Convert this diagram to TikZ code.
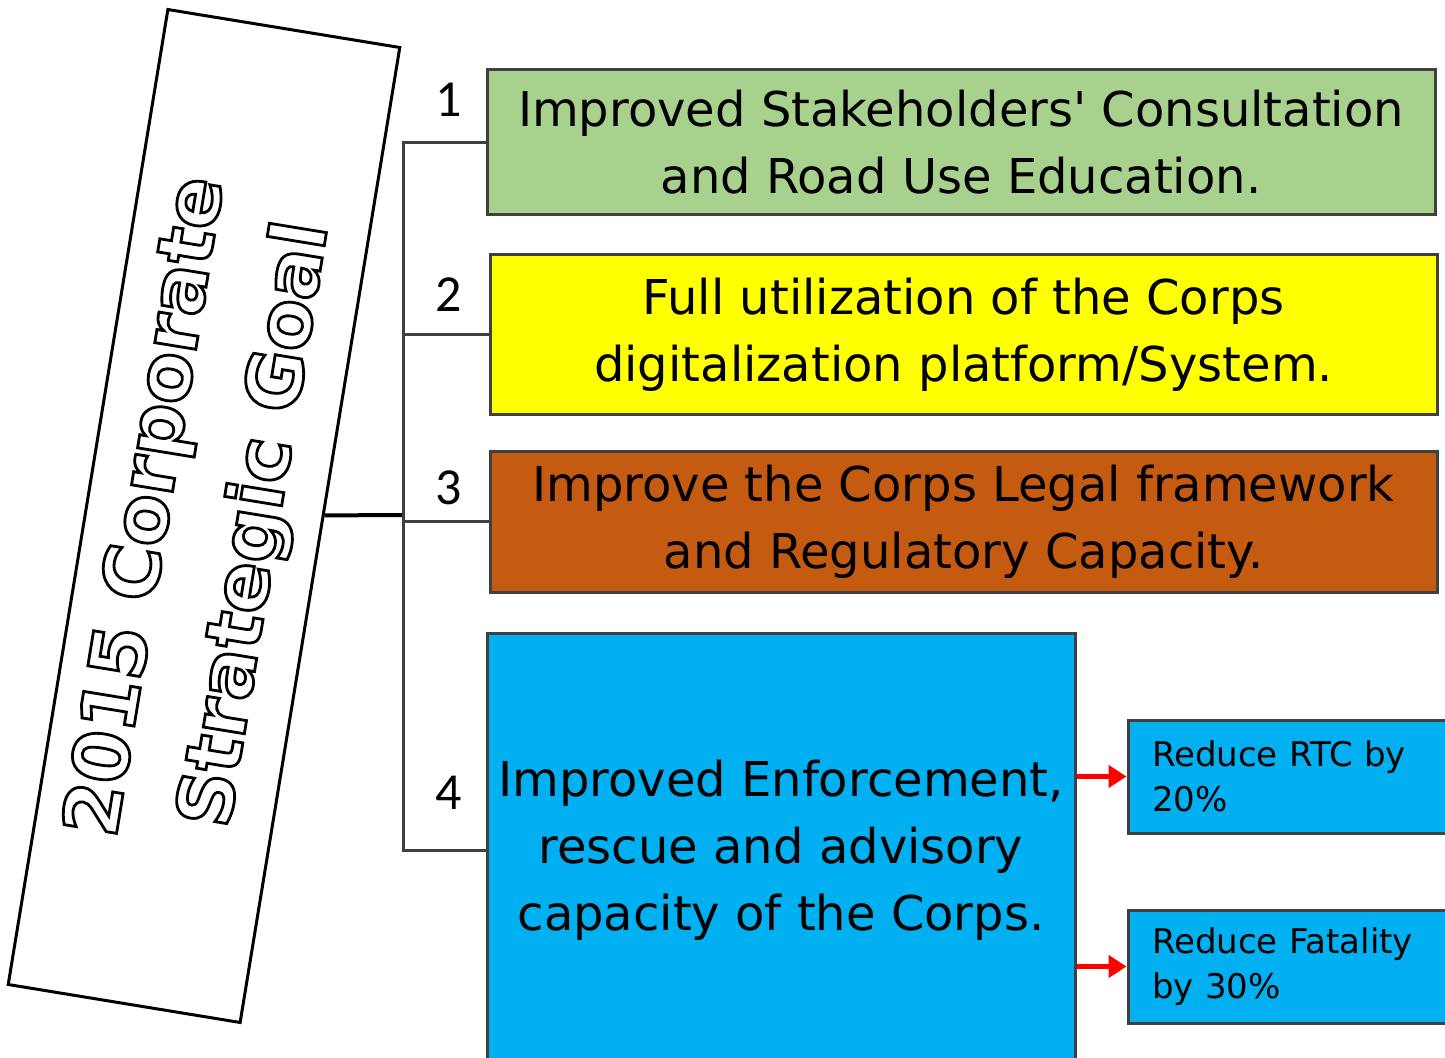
\documentclass[tikz,border=0pt]{standalone}
\usepackage{fontspec}
\usepackage{xcolor}
\usetikzlibrary{arrows.meta}
\setmainfont{DejaVu Sans}
\newfontfamily\numfont{Carlito}
\definecolor{objgreen}{RGB}{169,209,142}
\definecolor{objyellow}{RGB}{255,255,0}
\definecolor{objorange}{RGB}{197,90,17}
\definecolor{objblue}{RGB}{0,176,240}
\definecolor{edgegray}{RGB}{64,64,64}
% hollow letters: white fill, black stroke
\newcommand{\hollow}[1]{\special{pdf:literal 0 G 2 Tr 1.4 w}#1\special{pdf:literal 0 Tr}}

\tikzset{
  objbox/.style={draw = edgegray, line width=1.5pt, align=center, font=\fontsize{24}{33.5}\selectfont},
  targetbox/.style={draw = edgegray, line width=1.5pt, fill = objblue, align=left, text width=137pt, inner xsep=12pt, font=\fontsize{17}{22.5}\selectfont},
  numlabel/.style={font=\numfont\fontsize{26}{30}\selectfont},
  link/.style={draw = edgegray, line width=1.5pt},
  redarrow/.style={red, line width=2.5pt, -{Triangle[length=9pt,width=11pt]}}
}

\begin{document}
\begin{tikzpicture}[x=0.5pt, y=-0.5pt]
\useasboundingbox (0,0) rectangle (1445,1058);
% the goal
\node[draw, line width=1.5pt, text = white, rotate=80.7, minimum width=494pt, minimum height=117.5pt, align=center, font=\bfseries\fontsize{38}{55}\selectfont] (goal) at (204,516) {\hollow{2015 Corporate}\\\hollow{Strategic Goal}};
% objectives
\node[objbox, fill = objgreen, minimum width=474pt, minimum height=72.5pt] (obj1) at (961,142.5) {Improved Stakeholders\textquotesingle{} Consultation\\and Road Use Education.};
\node[objbox, fill = objyellow, minimum width=473.5pt, minimum height=80pt] (obj2) at (963.5,335) {Full utilization of the Corps\\digitalization platform/System.};
\node[objbox, fill = objorange, minimum width=473.5pt, minimum height=70pt] (obj3) at (963.5,522) {Improve the Corps Legal framework\\and Regulatory Capacity.};
\node[objbox, fill = objblue, minimum width=294pt, minimum height=217pt] (obj4) at (781,850) {Improved Enforcement,\\rescue and advisory\\capacity of the Corps.};
\node[targetbox, minimum height=56.5pt] (rtc) at (1289,776.5) {Reduce RTC by\\20\%};
\node[targetbox, minimum height=56.5pt] (fatal) at (1289,966.5) {Reduce Fatality\\by 30\%};
% numbers
\node[numlabel] (num1) at (449,100) {1};
\node[numlabel] (num2) at (449,295) {2};
\node[numlabel] (num3) at (449,488) {3};
\node[numlabel] (num4) at (449,793) {4};
% connectors
\coordinate (trunk) at (403,515);
\draw[line width=2pt] (goal) -- (trunk);
\draw[link] (obj1.west) -| (trunk) |- (obj4.west);
\draw[link] (obj2.west) -- (obj2.west -| trunk);
\draw[link] (obj3.west) -- (obj3.west -| trunk);
\draw[redarrow] (obj4.east |- rtc.west) -- (rtc.west);
\draw[redarrow] (obj4.east |- fatal.west) -- (fatal.west);
\end{tikzpicture}
\end{document}
